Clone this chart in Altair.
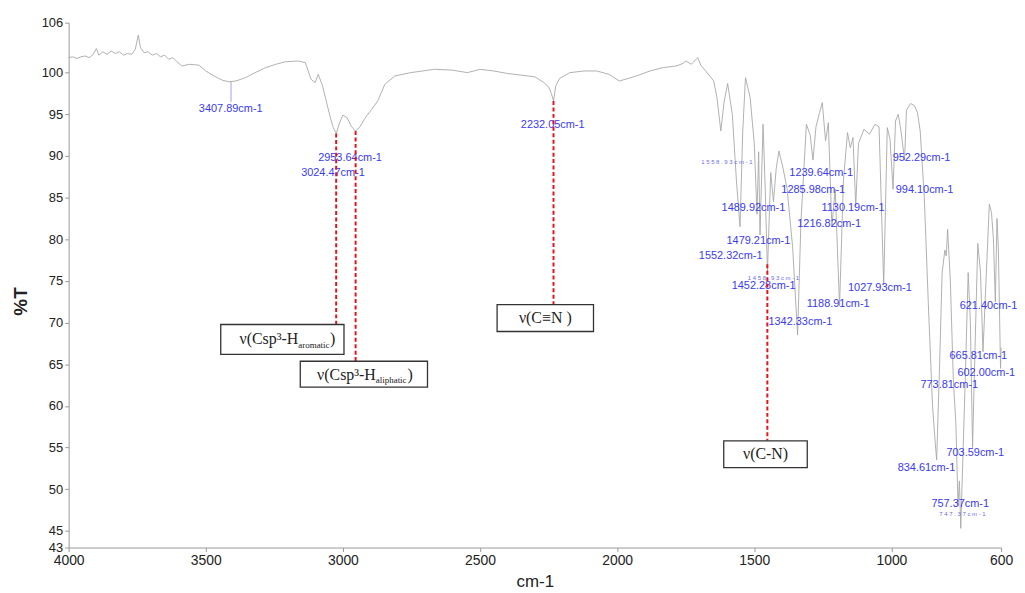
import altair as alt
import pandas as pd

# ---------------- spectrum (wavenumber cm-1, %T) ----------------
wavenumber = [
    4000, 3985, 3970, 3955, 3940, 3925, 3910, 3899, 3890, 3875,
    3860, 3845, 3830, 3815, 3800, 3785, 3770, 3757, 3746, 3738,
    3725, 3710, 3695, 3680, 3665, 3650, 3635, 3620, 3605, 3587,
    3560, 3525, 3500, 3470, 3440, 3416, 3390, 3355, 3320, 3282,
    3245, 3210, 3163, 3137, 3116, 3101, 3090, 3075, 3060, 3045,
    3035, 3024, 3012, 3000, 2985, 2970, 2955, 2940, 2920, 2895,
    2873, 2847, 2811, 2753, 2666, 2600, 2546, 2500, 2450, 2400,
    2350, 2300, 2267, 2250, 2240, 2232, 2224, 2210, 2173, 2120,
    2075, 2030, 1992, 1960, 1930, 1880, 1833, 1785, 1760, 1749,
    1730, 1715, 1706, 1695, 1677, 1660, 1648, 1636, 1622, 1610,
    1597, 1580, 1565, 1552, 1542, 1532, 1515, 1500, 1490, 1484,
    1479, 1468, 1460, 1452, 1440, 1430, 1420, 1410, 1395, 1380,
    1360, 1342, 1330, 1310, 1296, 1286, 1275, 1262, 1252, 1240,
    1230, 1217, 1205, 1189, 1175, 1160, 1150, 1140, 1130, 1120,
    1100, 1080, 1060, 1045, 1028, 1015, 1005, 994, 985, 975,
    965, 952, 945, 930, 915, 905, 895, 880, 865, 850,
    840, 835, 825, 815, 805, 800, 795, 785, 774, 765,
    757, 752, 747, 740, 730, 720, 712, 704, 695, 685,
    675, 666, 655, 643, 635, 628, 621, 615, 610, 602,
    600,
]
transmittance = [
    101.8, 101.9, 101.7, 101.9, 102.0, 101.8, 102.2, 102.9, 102.1, 102.5,
    102.2, 102.6, 102.3, 102.5, 102.1, 102.3, 102.2, 102.8, 104.5, 103.0,
    102.4, 102.5, 102.1, 102.3, 101.9, 102.1, 101.6, 101.8, 101.3, 100.8,
    101.0, 100.9, 100.2, 99.6, 99.1, 98.9, 99.0, 99.4, 100.0, 100.6,
    101.0, 101.3, 101.4, 101.2, 99.2, 98.8, 99.8, 98.5, 96.5, 94.5,
    93.4, 92.7, 94.0, 94.9, 94.6, 93.6, 93.0, 93.4, 94.5, 95.6,
    96.6, 98.6, 99.6, 100.0, 100.4, 100.3, 100.0, 100.4, 100.2, 99.9,
    99.7, 99.5, 98.8, 98.3, 97.5, 96.6, 98.4, 99.3, 100.0, 100.2,
    100.2, 99.8, 99.0, 99.3, 99.6, 100.2, 100.6, 100.8, 101.1, 101.4,
    101.0, 101.5, 101.8, 100.9, 100.2, 99.5, 99.0, 97.0, 93.0, 96.5,
    98.7, 95.0, 87.0, 81.5, 93.0, 99.4, 97.0, 91.5, 83.0, 90.5,
    80.5, 93.8, 86.0, 76.0, 88.0, 84.5, 88.5, 90.6, 88.5, 86.0,
    79.0, 68.5, 82.0, 93.8, 92.5, 89.5, 93.5, 95.2, 96.4, 91.8,
    94.0, 81.5, 86.0, 72.0, 87.0, 92.8, 91.0, 92.2, 84.0, 91.5,
    93.2, 92.6, 93.8, 93.5, 74.5, 93.4, 92.0, 86.0, 94.2, 95.0,
    93.0, 89.5, 95.5, 96.3, 96.0, 95.2, 93.0, 85.0, 72.0, 60.0,
    55.5, 53.5, 64.0, 76.0, 78.7, 78.0, 81.2, 75.0, 63.0, 58.0,
    48.0, 51.0, 45.3, 53.0, 64.0, 76.0, 70.0, 55.0, 67.0, 79.5,
    76.0, 66.5, 75.0, 84.2, 83.2, 80.0, 72.5, 82.5, 79.0, 64.5,
    67.0,
]
assert len(wavenumber) == len(transmittance)

# ---------------- peak labels ----------------
peak_text = [
    "3407.89cm-1", "2953.64cm-1", "3024.47cm-1", "2232.05cm-1",
    "952.29cm-1", "1239.64cm-1", "1285.98cm-1", "994.10cm-1",
    "1489.92cm-1", "1130.19cm-1", "1216.82cm-1", "1479.21cm-1",
    "1552.32cm-1", "1452.28cm-1", "1027.93cm-1", "1188.91cm-1",
    "1342.33cm-1", "621.40cm-1", "665.81cm-1", "602.00cm-1",
    "773.81cm-1", "703.59cm-1", "834.61cm-1", "757.37cm-1",
]
peak_wn = [
    3409, 2974, 3036, 2235,
    890, 1256, 1285, 879,
    1503, 1140, 1227, 1485,
    1586, 1466, 1042, 1194,
    1332, 646, 683, 654,
    789, 694, 872, 749,
]
peak_t = [
    95.65, 89.8, 88.0, 93.7,
    89.8, 88.0, 85.9, 85.9,
    83.8, 83.8, 81.8, 79.8,
    78.0, 74.4, 74.1, 72.2,
    70.1, 72.0, 66.0, 64.0,
    62.5, 54.4, 52.6, 48.2,
]

tiny_text = ["1 5 5 8 . 9 3 c m - 1", "1 4 5 8 . 9 3 c m - 1", "7 4 7 . 3 7 c m - 1"]
tiny_wn = [1600, 1430, 741]
tiny_t = [89.3, 75.4, 47.0]

# thin connector from a peak tip to its label
conn_wn = [3407.89]
conn_top = [98.9]
conn_bottom = [96.5]

# ---------------- red dashed assignment lines ----------------
red_wn = [3024.47, 2953.64, 2232.05, 1452.28]
red_top = [92.7, 93.0, 96.6, 77.0]
red_bottom = [69.77, 65.36, 72.15, 55.81]

# ---------------- annotation boxes ----------------
box_wn1 = [3445.4, 3155.4, 2437.7, 1611.3]
box_wn2 = [2996.0, 2691.5, 2086.2, 1306.8]
box_t1 = [69.77, 65.36, 72.15, 55.81]
box_t2 = [66.19, 62.26, 68.93, 52.59]

plain_text = ["ν(C≡N )", "ν(C-N)"]
plain_wn = [2262, 1459]
plain_t = [70.5, 54.2]

main_text = ["ν(Csp³-H", "ν(Csp³-H"]
main_wn = [3162.7, 2880.0]
main_t = [67.97, 63.75]
sub_text = ["aromatic", "aliphatic"]
sub_t = [67.3, 63.1]
close_wn = [3046.7, 2764.0]

x_ticks = [4000, 3500, 3000, 2500, 2000, 1500, 1000, 600]
y_ticks = [43, 45, 50, 55, 60, 65, 70, 75, 80, 85, 90, 95, 100, 106]

# ---------------- chart ----------------
FONT = "Liberation Sans Narrow, Liberation Sans, Arial"
SERIF = "Liberation Serif, Times New Roman"

xs = alt.Scale(domain=[600, 4000], reverse=True, nice=False, zero=False)
ys = alt.Scale(domain=[43, 106], nice=False, zero=False)

x_axis = alt.Axis(
    values=x_ticks, format="d", title="cm-1", grid=False, labelFontSize=14,
    labelFont=FONT, titleFont=FONT, titleFontSize=17, titleFontWeight="normal",
    titleColor="#222", labelColor="#222", tickSize=4, tickColor="#999",
    domainColor="#999", labelPadding=2, titleY=34, titleBaseline="middle",
    labelOverlap=False, labelFlush=False)
y_axis = alt.Axis(
    values=y_ticks, format="d", title="%T", grid=False, labelFontSize=13,
    labelFont=FONT, titleFont=FONT, titleFontSize=19, titleFontWeight="bold",
    titleColor="#222", labelColor="#222", tickSize=4, tickColor="#999",
    domainColor="#999", labelPadding=2, labelOverlap=False,
    titleX=-48, titleY=280, titleAlign="center", titleBaseline="middle",
    titleAngle=270)


def X(field="wn"):
    return alt.X(f"{field}:Q", scale=xs, axis=x_axis)


def Y(field="t"):
    return alt.Y(f"{field}:Q", scale=ys, axis=y_axis)


spec_df = pd.DataFrame({"wn": wavenumber, "t": transmittance, "idx": list(range(len(wavenumber)))})

spectrum = alt.Chart(spec_df).mark_line(color="#a8a8a8", strokeWidth=0.9).encode(
    x=X(), y=Y(), order=alt.Order("idx:Q"))

conn = alt.Chart(pd.DataFrame({"wn": conn_wn, "t": conn_top, "t2": conn_bottom})).mark_rule(
    color="#8a8ae8", strokeWidth=0.8
).encode(x=X(), y=Y(), y2="t2:Q")

peaks = alt.Chart(pd.DataFrame({"txt": peak_text, "wn": peak_wn, "t": peak_t})).mark_text(
    color="#3a3af0", font=FONT, fontSize=11, align="center", baseline="middle"
).encode(x=X(), y=Y(), text="txt:N")

tiny = alt.Chart(pd.DataFrame({"txt": tiny_text, "wn": tiny_wn, "t": tiny_t})).mark_text(
    color="#6a6af0", font=FONT, fontSize=6, align="center", baseline="middle"
).encode(x=X(), y=Y(), text="txt:N")

red = alt.Chart(pd.DataFrame({"wn": red_wn, "t": red_top, "t2": red_bottom})).mark_rule(
    color="#e3141c", strokeWidth=2, strokeDash=[4, 2.5]
).encode(x=X(), y=Y(), y2="t2:Q")

boxes = alt.Chart(pd.DataFrame({"wn": box_wn1, "wn2": box_wn2, "t": box_t1, "t2": box_t2})).mark_rect(
    fill="white", stroke="#333333", strokeWidth=1.3
).encode(x=X(), x2="wn2:Q", y=Y(), y2="t2:Q")

plain = alt.Chart(pd.DataFrame({"txt": plain_text, "wn": plain_wn, "t": plain_t})).mark_text(
    color="#222", font=SERIF, fontSize=16, align="center", baseline="middle"
).encode(x=X(), y=Y(), text="txt:N")

main = alt.Chart(pd.DataFrame({"txt": main_text, "wn": main_wn, "t": main_t})).mark_text(
    color="#222", font=SERIF, fontSize=16, align="right", baseline="middle"
).encode(x=X(), y=Y(), text="txt:N")

sub = alt.Chart(pd.DataFrame({"txt": sub_text, "wn": main_wn, "t": sub_t})).mark_text(
    color="#222", font=SERIF, fontSize=9, align="left", baseline="middle"
).encode(x=X(), y=Y(), text="txt:N")

close = alt.Chart(pd.DataFrame({"txt": [")", ")"], "wn": close_wn, "t": main_t})).mark_text(
    color="#222", font=SERIF, fontSize=16, align="left", baseline="middle"
).encode(x=X(), y=Y(), text="txt:N")

chart = alt.layer(spectrum, conn, peaks, tiny, red, boxes, plain, main, sub, close).properties(
    width=938, height=528,
    autosize=alt.AutoSizeParams(type="none"),
    padding={"left": 61, "top": 13, "right": 16, "bottom": 44},
    background="white",
).configure_view(stroke=None)

chart.save("out.html", embed_options={"renderer": "svg", "actions": False})
